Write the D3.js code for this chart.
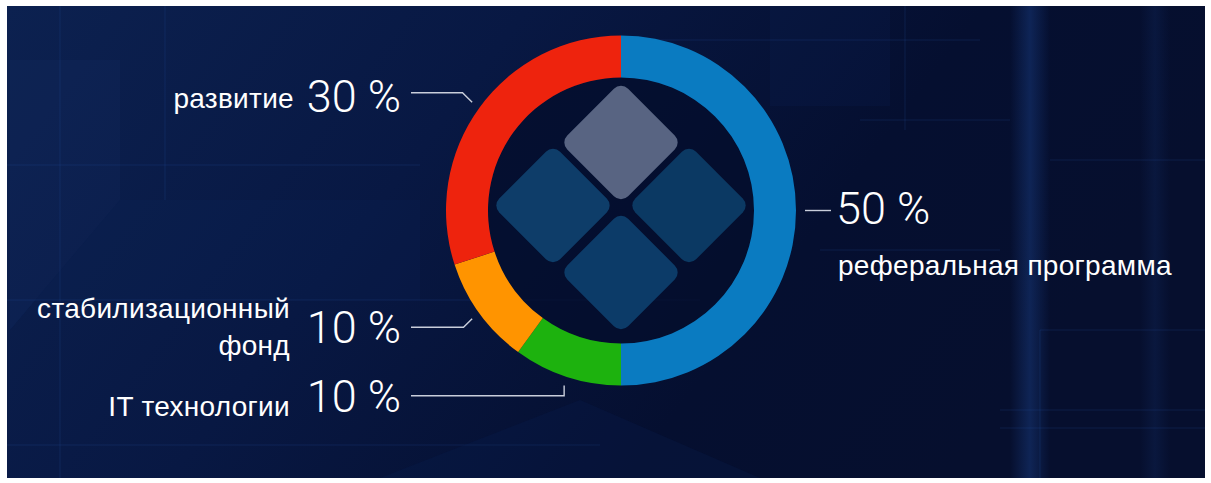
<!DOCTYPE html>
<html>
<head>
<meta charset="utf-8">
<script src="https://cdn.jsdelivr.net/npm/d3@7"></script>
<style>
  html, body { margin: 0; padding: 0; background: #fff; }
  svg { display: block; }
</style>
</head>
<body>
<div id="chartContainer"></div>
<script>
// --- data ---
const categories = ["реферальная программа", "IT технологии", "стабилизационный фонд", "развитие"];
const shares = [50, 10, 10, 30];
const sliceColors = ["#0a7bc1", "#1db20e", "#ff9400", "#ee230d"];
const valueLabels = shares.map(d => d + " %");

// label layout (one entry per slice, same order)
const labelLayout = [
  { side: "right", lineY: 210,   lineEnd: 831, elbow: "none", numX: 836, numY: 224, textX: 838, textY: 275, lines: ["реферальная программа"] },
  { side: "left",  lineY: 395.7, lineEnd: 411, elbow: "vert", numX: 401, numY: 412, textX: 290, textY: 416, lines: ["IT технологии"] },
  { side: "left",  lineY: 327.3, lineEnd: 411, elbow: "diag", numX: 401, numY: 343, textX: 290, textY: 318, lines: ["стабилизационный", "фонд"] },
  { side: "left",  lineY: 92.7,  lineEnd: 411, elbow: "diag", numX: 401, numY: 112, textX: 294, textY: 108, lines: ["развитие"] }
];

(function() {
  const fullWidth = 1211, fullHeight = 483;
  const cx = 621, cy = 210.5;
  const outerR = 175, innerR = 133, leaderR = 184;

  const svg = d3.create("svg")
      .attr("width", fullWidth)
      .attr("height", fullHeight)
      .attr("viewBox", [0, 0, fullWidth, fullHeight]);

  const defs = svg.append("defs");
  const bgGrad = defs.append("linearGradient").attr("id", "bg").attr("x1", 0).attr("x2", 1).attr("y1", 0).attr("y2", 0.3);
  bgGrad.append("stop").attr("offset", "0%").attr("stop-color", "#0c2150");
  bgGrad.append("stop").attr("offset", "40%").attr("stop-color", "#081843");
  bgGrad.append("stop").attr("offset", "75%").attr("stop-color", "#050f30");
  bgGrad.append("stop").attr("offset", "100%").attr("stop-color", "#060f2e");

  const glow = defs.append("linearGradient").attr("id", "vglow").attr("x1", 0).attr("x2", 1);
  glow.append("stop").attr("offset", "0%").attr("stop-color", "#1a3f86").attr("stop-opacity", 0);
  glow.append("stop").attr("offset", "50%").attr("stop-color", "#1a3f86").attr("stop-opacity", 0.45);
  glow.append("stop").attr("offset", "100%").attr("stop-color", "#1a3f86").attr("stop-opacity", 0);

  // --- background ---
  const bg = svg.append("g");
  bg.append("rect").attr("x", 7).attr("y", 6).attr("width", 1198).attr("height", 472).attr("fill", "url(#bg)");

  // faint tech texture
  bg.append("path")
      .attr("d", "M10,60 L120,60 L120,200 L10,330 Z")
      .attr("fill", "#15306a").attr("opacity", 0.18);
  bg.append("path")
      .attr("d", "M10,330 L120,200 L420,200 L420,300 L10,300 Z")
      .attr("fill", "#0f2860").attr("opacity", 0.14);
  bg.append("rect").attr("x", 1010).attr("y", 6).attr("width", 40).attr("height", 472).attr("fill", "url(#vglow)");
  bg.append("rect").attr("x", 1140).attr("y", 6).attr("width", 30).attr("height", 472).attr("fill", "url(#vglow)").attr("opacity", 0.4);
  bg.append("rect").attr("x", 770).attr("y", 6).attr("width", 120).attr("height", 100).attr("fill", "#0f2a63").attr("opacity", 0.15);

  const hLines = [
    [7, 165, 420], [7, 300, 700], [7, 445, 600], [820, 250, 1000], [1000, 410, 1205], [1000, 428, 1205],
    [640, 40, 980], [860, 120, 1010], [1050, 160, 1205], [1040, 330, 1205]
  ];
  bg.selectAll("line.h").data(hLines).join("line")
      .attr("class", "h")
      .attr("x1", d => d[0]).attr("x2", d => d[2])
      .attr("y1", d => d[1]).attr("y2", d => d[1])
      .attr("stroke", "#2a58a8").attr("stroke-opacity", 0.22).attr("stroke-width", 1.2);
  const vLines = [[60, 6, 478], [165, 6, 200], [905, 6, 130], [1040, 330, 478]];
  bg.selectAll("line.v").data(vLines).join("line")
      .attr("class", "v")
      .attr("x1", d => d[0]).attr("x2", d => d[0])
      .attr("y1", d => d[1]).attr("y2", d => d[2])
      .attr("stroke", "#2a58a8").attr("stroke-opacity", 0.18).attr("stroke-width", 1.2);
  bg.append("path")
      .attr("d", "M380,478 L580,400 L760,478 Z")
      .attr("fill", "#0c2458").attr("opacity", 0.2);

  // --- donut ---
  const pie = d3.pie().sort(null).value(d => d);
  const arcs = pie(shares);
  const arc = d3.arc().innerRadius(innerR).outerRadius(outerR);

  const donut = svg.append("g").attr("transform", `translate(${cx},${cy})`);
  donut.append("circle").attr("r", innerR).attr("fill", "#040d2c").attr("opacity", 0.75);
  donut.selectAll("path.slice").data(arcs).join("path")
      .attr("class", "slice")
      .attr("d", arc)
      .attr("fill", (d, i) => sliceColors[i]);

  // --- logo diamonds ---
  const side = 86;
  const diamonds = [
    { dx: 0, dy: -68, fill: "#5d6987" },
    { dx: -68, dy: -5, fill: "#0f406d" },
    { dx: 68, dy: -5, fill: "#0c3c66" },
    { dx: 0, dy: 62, fill: "#0d3e6b" }
  ];
  donut.selectAll("rect.dia").data(diamonds).join("rect")
      .attr("class", "dia")
      .attr("x", -side / 2).attr("y", -side / 2)
      .attr("width", side).attr("height", side)
      .attr("rx", 10).attr("ry", 10)
      .attr("fill", d => d.fill)
      .attr("opacity", 0.95)
      .attr("transform", d => `translate(${d.dx},${d.dy}) rotate(45)`);

  // --- leader lines ---
  const leaders = svg.append("g")
      .attr("fill", "none")
      .attr("stroke", "#c9cedb")
      .attr("stroke-width", 1.4);
  arcs.forEach((a, i) => {
    const L = labelLayout[i];
    const mid = (a.startAngle + a.endAngle) / 2;
    const sx = cx + leaderR * Math.sin(mid);
    const sy = cy - leaderR * Math.cos(mid);
    const p = d3.path();
    p.moveTo(sx, sy);
    if (L.elbow === "diag") {
      const dy = Math.abs(L.lineY - sy);
      p.lineTo(L.side === "left" ? sx - dy : sx + dy, L.lineY);
    } else if (L.elbow === "vert") {
      p.lineTo(sx, L.lineY);
    }
    p.lineTo(L.lineEnd, L.elbow === "none" ? sy : L.lineY);
    leaders.append("path").attr("d", p.toString());
  });

  // --- labels ---
  const labels = svg.append("g").attr("fill", "#ffffff");
  arcs.forEach((a, i) => {
    const L = labelLayout[i];
    const anchor = L.side === "left" ? "end" : "start";
    labels.append("text")
        .attr("x", L.numX).attr("y", L.numY)
        .attr("text-anchor", anchor)
        .style("font-family", "Roboto, 'Liberation Sans', sans-serif")
        .style("font-weight", 300)
        .style("font-size", "45px")
        .text(valueLabels[i]);
    const t = labels.append("text")
        .attr("x", L.textX).attr("y", L.textY)
        .attr("text-anchor", anchor)
        .style("font-family", "'Liberation Sans', Arial, sans-serif")
        .style("font-size", "28px")
        .style("letter-spacing", "0.3px");
    L.lines.forEach((ln, j) => {
      t.append("tspan").attr("x", L.textX).attr("dy", j === 0 ? 0 : 37).text(ln);
    });
  });

  document.getElementById("chartContainer").append(svg.node());
})();
</script>
</body>
</html>
